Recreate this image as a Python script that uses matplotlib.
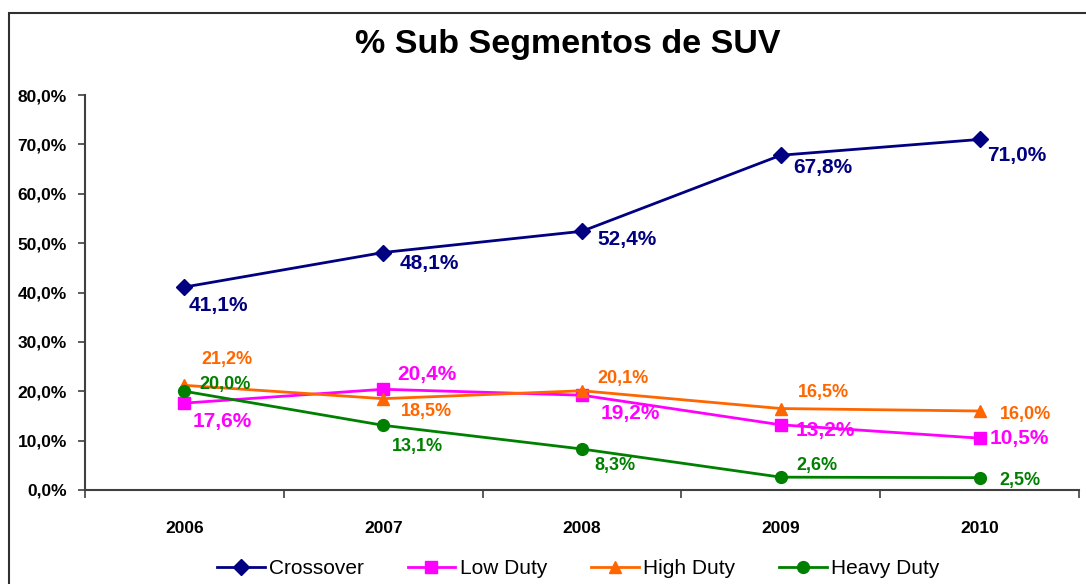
import numpy as np
import matplotlib.pyplot as plt
from matplotlib.patches import Rectangle

plt.rcParams['font.family'] = ['Liberation Sans', 'DejaVu Sans']

years = ['2006', '2007', '2008', '2009', '2010']
crossover = [41.1, 48.1, 52.4, 67.8, 71.0]
low_duty = [17.6, 20.4, 19.2, 13.2, 10.5]
high_duty = [21.2, 18.5, 20.1, 16.5, 16.0]
heavy_duty = [20.0, 13.1, 8.3, 2.6, 2.5]

# label offsets in pixels, per point
off_cross = [(34, -18), (46, -11), (45, -8), (42, -12), (37, -16)]
off_low = [(38, -18), (44, 15), (48, -18), (45, -6), (40, 0)]
off_high = [(43, 26), (43, -13), (41, 12), (43, 16), (46, -4)]
off_heavy = [(41, 7), (34, -21), (33, -16), (36, 12), (40, -3)]

fig = plt.figure(figsize=(10.86, 5.84), dpi=100)
ax = fig.add_axes([85/1086, 1-490/584, (1079-85)/1086, (490-95)/584])

x = np.arange(len(years))
series = [
    ('Crossover', crossover, '#000080', 'D', 8.5, off_cross, 15),
    ('Low Duty', low_duty, '#FF00FF', 's', 8, off_low, 15),
    ('High Duty', high_duty, '#FF6600', '^', 8.5, off_high, 13),
    ('Heavy Duty', heavy_duty, '#008000', 'o', 8.5, off_heavy, 13),
]
for name, vals, col, mk, ms, offs, fs in series:
    ax.plot(x, vals, color=col, marker=mk, markersize=ms, lw=2, label=name)
    for xi, v, o in zip(x, vals, offs):
        ax.annotate(f'{v:.1f}%'.replace('.', ','), (xi, v), xytext=o,
                    textcoords='offset pixels', ha='center', va='center',
                    color=col, fontsize=fs, fontweight='bold')

ax.set_xlim(-0.5, 4.5)
ax.set_ylim(0, 80)
ax.set_yticks(np.arange(0, 81, 10))
ax.set_yticklabels([f'{v:.1f}%'.replace('.', ',') for v in np.arange(0, 81, 10)],
                   fontsize=12.5, fontweight='bold')
ax.set_xticks(x)
ax.set_xticklabels(years, fontsize=12.5, fontweight='bold')
ax.set_xticks(np.arange(-0.5, 5, 1), minor=True)
ax.tick_params(axis='x', which='major', length=0, pad=22)
ax.tick_params(axis='x', which='minor', length=6, width=1.2, color='#404040', direction='out')
ax.tick_params(axis='y', length=5, width=1.2, color='#404040', pad=8)
for s in ['top', 'right']:
    ax.spines[s].set_visible(False)
for s in ['left', 'bottom']:
    ax.spines[s].set_color('#404040')
    ax.spines[s].set_linewidth(1.5)

fig.text(568/1086, 1-45/584, '% Sub Segmentos de SUV', ha='center', va='center',
         fontsize=24.5, fontweight='bold')

fig.legend(loc='center', bbox_to_anchor=(578/1086, 1-569/584), ncol=4, frameon=False,
           fontsize=15, handlelength=2.3, handletextpad=0.2, columnspacing=2.1)

fig.patches.append(Rectangle((9/1086, -0.1), 1.2, 1-13/584+0.1, transform=fig.transFigure,
                             fill=False, edgecolor='#303030', lw=1.5))

fig.savefig('out.png', dpi=100)
